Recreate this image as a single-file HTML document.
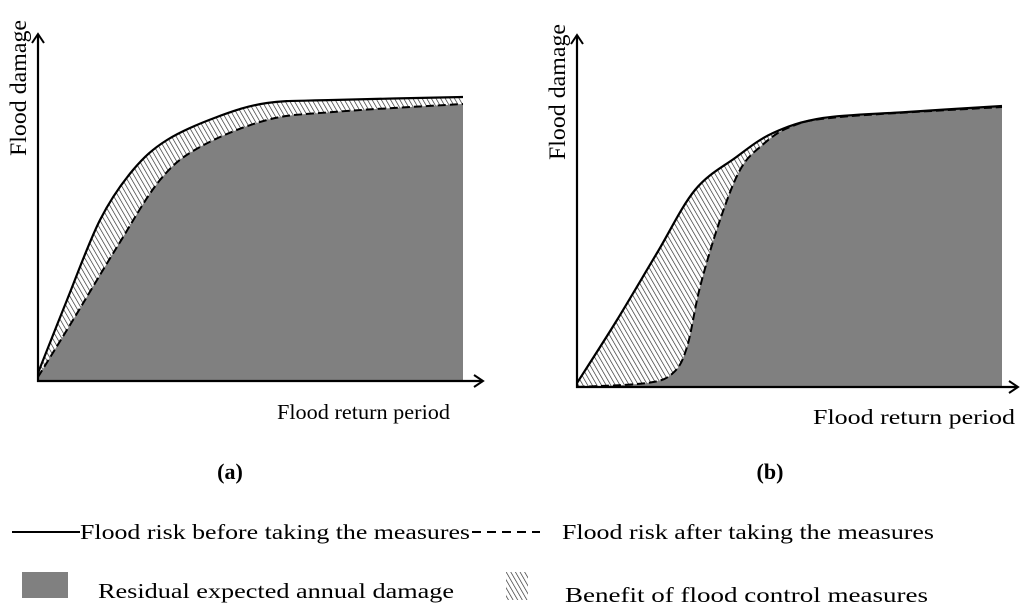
<!DOCTYPE html>
<html><head><meta charset="utf-8"><style>
html,body{margin:0;padding:0;background:#fff;}
svg{display:block;font-family:"Liberation Serif","Times New Roman",serif;}
</style></head><body>
<svg id="chart" width="1024" height="611" viewBox="0 0 1024 611" xmlns="http://www.w3.org/2000/svg">
<defs>
<pattern id="hatch" patternUnits="userSpaceOnUse" width="4" height="4" patternTransform="rotate(-30)">
<rect width="4" height="4" fill="#fff"/>
<line x1="0" y1="0" x2="0" y2="4" stroke="#222" stroke-width="1.3"/>
</pattern>
<marker id="arr" markerWidth="12" markerHeight="14" refX="10" refY="7" orient="auto" markerUnits="userSpaceOnUse">
<path d="M1,1 L10,7 L1,13" fill="none" stroke="#000" stroke-width="2"/>
</marker>
</defs>
<g id="panelA"></g>
<g id="panelB"></g>
<text transform="translate(26,88) rotate(-90)" font-size="23" text-anchor="middle" textLength="136" lengthAdjust="spacingAndGlyphs">Flood damage</text>
<text transform="translate(565,92) rotate(-90)" font-size="23" text-anchor="middle" textLength="136" lengthAdjust="spacingAndGlyphs">Flood damage</text>
<text x="277" y="419" font-size="21" textLength="173" lengthAdjust="spacingAndGlyphs">Flood return period</text>
<text x="813" y="424" font-size="21" textLength="202" lengthAdjust="spacingAndGlyphs">Flood return period</text>
<text x="230" y="479" font-size="22" font-weight="bold" text-anchor="middle">(a)</text>
<text x="770" y="479" font-size="22" font-weight="bold" text-anchor="middle">(b)</text>
<g>
<line x1="12" y1="532" x2="80" y2="532" stroke="#000" stroke-width="2"/>
<text x="80" y="539" font-size="21" textLength="390" lengthAdjust="spacingAndGlyphs">Flood risk before taking the measures</text>
<line x1="472" y1="532" x2="540" y2="532" stroke="#000" stroke-width="2" stroke-dasharray="9,6"/>
<text x="562" y="539" font-size="21" textLength="372" lengthAdjust="spacingAndGlyphs">Flood risk after taking the measures</text>
<rect x="22" y="572" width="46" height="26" fill="#808080"/>
<text x="98" y="598" font-size="21" textLength="356" lengthAdjust="spacingAndGlyphs">Residual expected annual damage</text>
<rect x="506" y="572" width="22" height="28" fill="url(#hatch)"/>
<text x="565" y="602" font-size="21" textLength="363" lengthAdjust="spacingAndGlyphs">Benefit of flood control measures</text>
</g>
</svg>
<script>
// Panel A data (pixel-space: x return period, y damage)
const aBeforeX = [38,67,100,133,167,217,267,333,463];
const aBeforeY = [373,300,220,170,140,117,103,100,97];
const aAfterX = [38,73,117,160,200,267,333,463];
const aAfterY = [377,320,247,180,147,120,112,104];
// Panel B data
const bBeforeX = [577,617,657,695,735,773,823,907,1002];
const bBeforeY = [383,320,253,190,158,133,118,112,106];
const bAfterX = [577,647,673,687,700,720,740,760,790,840,1002];
const bAfterY = [387,383,373,347,287,220,170,147,127,117,107];

const NS = "http://www.w3.org/2000/svg";
function pts(xs, ys){ return xs.map((x,i)=>[x,ys[i]]); }
function curve(p){
  let d = "M"+p[0][0]+","+p[0][1];
  for(let i=0;i<p.length-1;i++){
    const p0=p[Math.max(i-1,0)], p1=p[i], p2=p[i+1], p3=p[Math.min(i+2,p.length-1)];
    const c1=[p1[0]+(p2[0]-p0[0])/6, p1[1]+(p2[1]-p0[1])/6];
    const c2=[p2[0]-(p3[0]-p1[0])/6, p2[1]-(p3[1]-p1[1])/6];
    d += " C"+c1[0].toFixed(1)+","+c1[1].toFixed(1)+" "+c2[0].toFixed(1)+","+c2[1].toFixed(1)+" "+p2[0]+","+p2[1];
  }
  return d;
}
function mk(g, tag, attrs){
  const el = document.createElementNS(NS, tag);
  for (const k in attrs) el.setAttribute(k, attrs[k]);
  g.appendChild(el); return el;
}
function panel(id, before, after, ox, oy, top, right){
  const g = document.getElementById(id);
  const last = before[before.length-1], lastA = after[after.length-1];
  const hatch = mk(g, "path", {d: curve(before)+" L"+last[0]+","+oy+" L"+ox+","+oy+" Z", fill:"url(#hatch)"});
  
  
  const gray = mk(g, "path", {d: curve(after)+" L"+lastA[0]+","+oy+" L"+ox+","+oy+" Z", fill:"#808080"});
  
  
  const sl = mk(g, "path", {d: curve(before), fill:"none", stroke:"#000", "stroke-width":2.2});
  
  
  const dl = mk(g, "path", {d: curve(after), fill:"none", stroke:"#000", "stroke-width":2, "stroke-dasharray":"8,4"});
  
  
  const ya = mk(g, "line", {x1:ox, y1:oy+1, x2:ox, y2:top, stroke:"#000", "stroke-width":2.2, "marker-end":"url(#arr)"});
  
  
  const xa = mk(g, "line", {x1:ox-1, y1:oy, x2:right, y2:oy, stroke:"#000", "stroke-width":2.2, "marker-end":"url(#arr)"});
  
  
}
panel("panelA", pts(aBeforeX,aBeforeY), pts(aAfterX,aAfterY), 38, 381, 34, 483);
panel("panelB", pts(bBeforeX,bBeforeY), pts(bAfterX,bAfterY), 577, 387, 35, 1018);
</script>
</body></html>
